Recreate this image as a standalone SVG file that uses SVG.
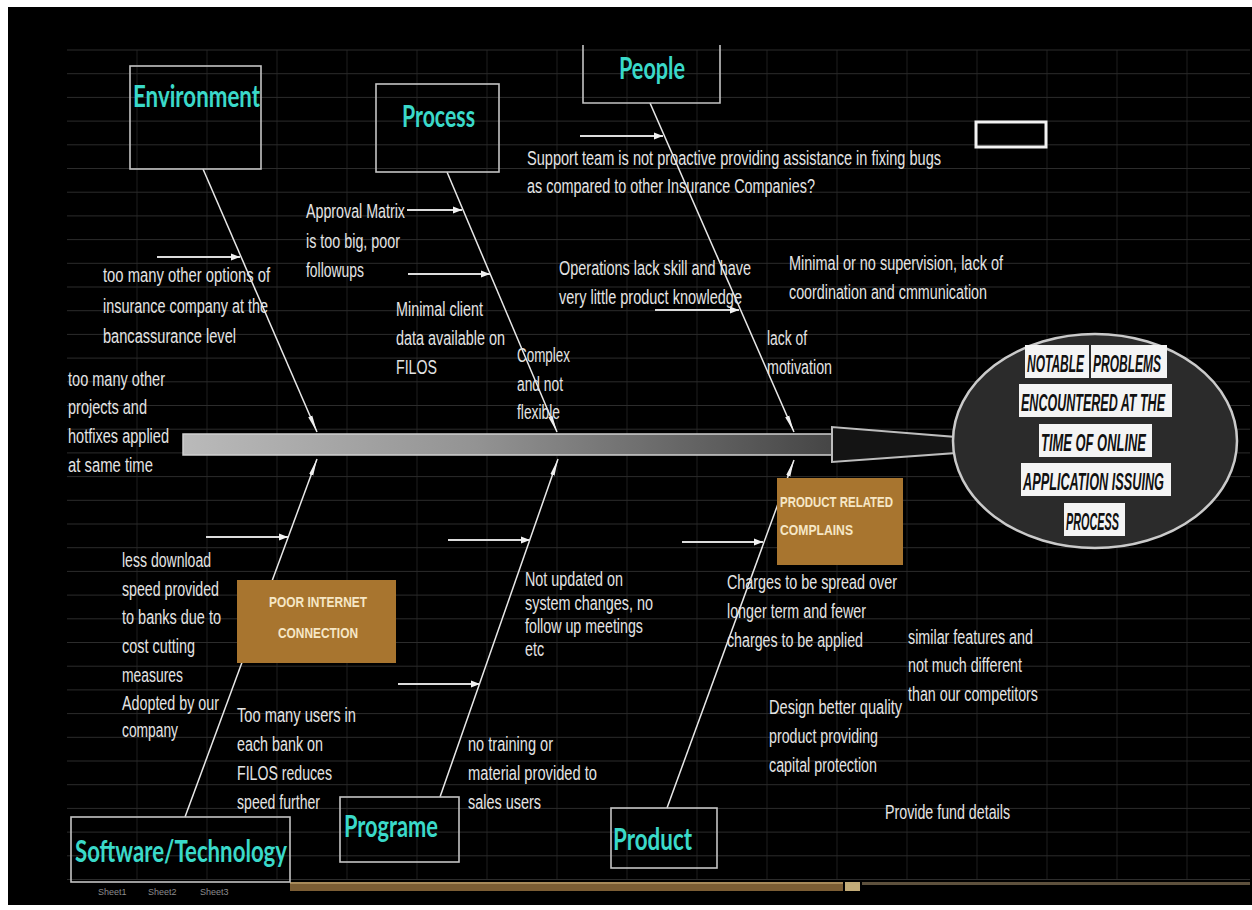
<svg xmlns="http://www.w3.org/2000/svg" width="1252" height="910" viewBox="0 0 1252 910">
  <style>
    .bg { fill: #000000; }
    .gh { stroke: #2c2c2c; stroke-width: 1; }
    .gv { stroke: #1e1e1e; stroke-width: 1; }
    .hdr { fill: none; stroke: #c4c4c4; stroke-width: 1.6; }
    .cat { font-family: Lato, "Open Sans", "Liberation Sans", sans-serif; font-weight: 700; font-size: 31px; fill: #3ad9c9; }
    .note { font-family: "Liberation Sans", Arial, sans-serif; font-size: 20px; fill: #e4e4e4; }
    .bone { stroke: #e8e8e8; stroke-width: 1.5; fill: none; }
    .sub { stroke: #dcdcdc; stroke-width: 2.2; fill: none; }
    .tag { fill: #a8752f; }
    .tagtxt { font-family: "Liberation Sans", Arial, sans-serif; font-weight: 700; font-size: 15px; fill: #f6e7c6; }
    .plate { fill: #f4f4f4; }
    .head { font-family: "Liberation Sans", Arial, sans-serif; font-weight: 700; font-style: italic; font-size: 24px; fill: #111111; }
  </style>
  <defs>
    <marker id="spike" markerUnits="userSpaceOnUse" markerWidth="18" markerHeight="8" refX="17" refY="3" orient="auto">
      <path d="M0,0.8 L17,3 L0,5.2 z" fill="#f0f0f0"/>
    </marker>
    <marker id="tip" markerUnits="userSpaceOnUse" markerWidth="10" markerHeight="8" refX="9" refY="4" orient="auto">
      <path d="M0,0.5 L9,4 L0,7.5 z" fill="#f2f2f2"/>
    </marker>
    <linearGradient id="spineFill" x1="0" y1="0" x2="1" y2="0">
      <stop offset="0" stop-color="#bababa"/>
      <stop offset="0.45" stop-color="#939393"/>
      <stop offset="1" stop-color="#454545"/>
    </linearGradient>
  </defs>

  <!-- sheet background -->
  <rect x="0" y="0" width="1252" height="910" fill="#ffffff"/>
  <rect class="bg" x="8" y="7" width="1244" height="898"/>

  <!-- worksheet grid -->
  <g id="grid">
    <line class="gv" x1="137" y1="50" x2="137" y2="880"/>
    <line class="gv" x1="207" y1="50" x2="207" y2="880"/>
    <line class="gv" x1="277" y1="50" x2="277" y2="880"/>
    <line class="gv" x1="347" y1="50" x2="347" y2="880"/>
    <line class="gv" x1="417" y1="50" x2="417" y2="880"/>
    <line class="gv" x1="487" y1="50" x2="487" y2="880"/>
    <line class="gv" x1="557" y1="50" x2="557" y2="880"/>
    <line class="gv" x1="627" y1="50" x2="627" y2="880"/>
    <line class="gv" x1="697" y1="50" x2="697" y2="880"/>
    <line class="gv" x1="767" y1="50" x2="767" y2="880"/>
    <line class="gv" x1="837" y1="50" x2="837" y2="880"/>
    <line class="gv" x1="907" y1="50" x2="907" y2="880"/>
    <line class="gv" x1="977" y1="50" x2="977" y2="880"/>
    <line class="gv" x1="1047" y1="50" x2="1047" y2="880"/>
    <line class="gv" x1="1117" y1="50" x2="1117" y2="880"/>
    <line class="gv" x1="1187" y1="50" x2="1187" y2="880"/>
    <line class="gh" x1="67" y1="50" x2="1250" y2="50" stroke="#4a4a4a"/>
    <line class="gh" x1="67" y1="73.7" x2="1250" y2="73.7"/>
    <line class="gh" x1="67" y1="97.4" x2="1250" y2="97.4"/>
    <line class="gh" x1="67" y1="121.1" x2="1250" y2="121.1"/>
    <line class="gh" x1="67" y1="144.8" x2="1250" y2="144.8"/>
    <line class="gh" x1="67" y1="168.5" x2="1250" y2="168.5"/>
    <line class="gh" x1="67" y1="192.2" x2="1250" y2="192.2"/>
    <line class="gh" x1="67" y1="215.9" x2="1250" y2="215.9"/>
    <line class="gh" x1="67" y1="239.6" x2="1250" y2="239.6"/>
    <line class="gh" x1="67" y1="263.3" x2="1250" y2="263.3"/>
    <line class="gh" x1="67" y1="287" x2="1250" y2="287"/>
    <line class="gh" x1="67" y1="310.7" x2="1250" y2="310.7"/>
    <line class="gh" x1="67" y1="334.4" x2="1250" y2="334.4"/>
    <line class="gh" x1="67" y1="358.1" x2="1250" y2="358.1"/>
    <line class="gh" x1="67" y1="381.8" x2="1250" y2="381.8"/>
    <line class="gh" x1="67" y1="405.5" x2="1250" y2="405.5"/>
    <line class="gh" x1="67" y1="429.2" x2="1250" y2="429.2"/>
    <line class="gh" x1="67" y1="452.9" x2="1250" y2="452.9"/>
    <line class="gh" x1="67" y1="476.6" x2="1250" y2="476.6"/>
    <line class="gh" x1="67" y1="500.3" x2="1250" y2="500.3"/>
    <line class="gh" x1="67" y1="524" x2="1250" y2="524"/>
    <line class="gh" x1="67" y1="547.7" x2="1250" y2="547.7"/>
    <line class="gh" x1="67" y1="571.4" x2="1250" y2="571.4"/>
    <line class="gh" x1="67" y1="595.1" x2="1250" y2="595.1"/>
    <line class="gh" x1="67" y1="618.8" x2="1250" y2="618.8"/>
    <line class="gh" x1="67" y1="642.5" x2="1250" y2="642.5"/>
    <line class="gh" x1="67" y1="666.2" x2="1250" y2="666.2"/>
    <line class="gh" x1="67" y1="689.9" x2="1250" y2="689.9"/>
    <line class="gh" x1="67" y1="713.6" x2="1250" y2="713.6"/>
    <line class="gh" x1="67" y1="737.3" x2="1250" y2="737.3"/>
    <line class="gh" x1="67" y1="761" x2="1250" y2="761"/>
    <line class="gh" x1="67" y1="784.7" x2="1250" y2="784.7"/>
    <line class="gh" x1="67" y1="808.4" x2="1250" y2="808.4"/>
    <line class="gh" x1="67" y1="832.1" x2="1250" y2="832.1"/>
    <line class="gh" x1="67" y1="855.8" x2="1250" y2="855.8"/>
    <line class="gh" x1="67" y1="879.5" x2="1250" y2="879.5"/>
  </g>

  <!-- sheet tab bar -->
  <g id="tabs">
    <rect x="290" y="882" width="553" height="9" fill="#7b5d34"/>
    <rect x="290" y="882" width="553" height="2" fill="#a88a5a"/>
    <rect x="845" y="882" width="15" height="9" fill="#c2ab78"/>
    <rect x="862" y="882" width="388" height="3" fill="#5e513d"/>
    <text x="98" y="895" font-family="Liberation Sans, Arial, sans-serif" font-size="9" fill="#8c8c8c">Sheet1</text>
    <text x="148" y="895" font-family="Liberation Sans, Arial, sans-serif" font-size="9" fill="#8c8c8c">Sheet2</text>
    <text x="200" y="895" font-family="Liberation Sans, Arial, sans-serif" font-size="9" fill="#8c8c8c">Sheet3</text>
  </g>

  <!-- main spine -->
  <g id="spine">
    <rect x="183" y="434" width="650" height="21" fill="url(#spineFill)" stroke="#d0d0d0" stroke-width="1.5"/>
    <polygon points="832,435 832,427 956,437 956,453 832,462 832,455" fill="#141414" stroke="#bdbdbd" stroke-width="2"/>
  </g>

  <!-- bones and cause arrows -->
  <g id="connectors">
    <line class="bone" x1="203" y1="169" x2="317" y2="432" marker-end="url(#spike)"/>
    <line class="bone" x1="447" y1="172" x2="557" y2="432" marker-end="url(#spike)"/>
    <line class="bone" x1="650" y1="103" x2="794" y2="432" marker-end="url(#spike)"/>
    <line class="bone" x1="185" y1="817" x2="317" y2="459" marker-end="url(#spike)"/>
    <line class="bone" x1="440" y1="797" x2="558" y2="459" marker-end="url(#spike)"/>
    <line class="bone" x1="667" y1="808" x2="794" y2="460" marker-end="url(#spike)"/>

    <line class="sub" x1="157" y1="257" x2="240" y2="257" marker-end="url(#tip)"/>
    <line class="sub" x1="407" y1="210" x2="462" y2="210" marker-end="url(#tip)"/>
    <line class="sub" x1="408" y1="274" x2="490" y2="274" marker-end="url(#tip)"/>
    <line class="sub" x1="580" y1="136" x2="663" y2="136" marker-end="url(#tip)"/>
    <line class="sub" x1="655" y1="310" x2="739" y2="310" marker-end="url(#tip)"/>
    <line class="sub" x1="206" y1="537" x2="288" y2="537" marker-end="url(#tip)"/>
    <line class="sub" x1="448" y1="540" x2="530" y2="540" marker-end="url(#tip)"/>
    <line class="sub" x1="398" y1="684" x2="480" y2="684" marker-end="url(#tip)"/>
    <line class="sub" x1="682" y1="542" x2="763" y2="542" marker-end="url(#tip)"/>
  </g>

  <!-- problem statement -->
  <g id="problem">
    <ellipse cx="1095" cy="441" rx="142" ry="107" fill="#2b2b2b" stroke="#cacaca" stroke-width="2.5"/>
    <rect class="plate" x="1025" y="345" width="64" height="33"/>
    <rect class="plate" x="1091" y="345" width="76" height="33"/>
    <rect class="plate" x="1019" y="384" width="153" height="33"/>
    <rect class="plate" x="1039" y="424" width="113" height="33"/>
    <rect class="plate" x="1021" y="463" width="150" height="33"/>
    <rect class="plate" x="1064" y="503" width="61" height="33"/>
    <text class="head" x="1027" y="372" textLength="57" lengthAdjust="spacingAndGlyphs">NOTABLE</text>
    <text class="head" x="1093" y="372" textLength="68" lengthAdjust="spacingAndGlyphs">PROBLEMS</text>
    <text class="head" x="1021" y="411" textLength="144" lengthAdjust="spacingAndGlyphs">ENCOUNTERED AT THE</text>
    <text class="head" x="1041" y="451" textLength="105" lengthAdjust="spacingAndGlyphs">TIME OF ONLINE</text>
    <text class="head" x="1023" y="490" textLength="141" lengthAdjust="spacingAndGlyphs">APPLICATION ISSUING</text>
    <text class="head" x="1066" y="530" textLength="53" lengthAdjust="spacingAndGlyphs">PROCESS</text>
  </g>

  <!-- Environment -->
  <g id="environment">
    <rect class="hdr" x="130" y="66" width="131" height="103"/>
    <text class="cat" x="133" y="107" textLength="127" lengthAdjust="spacingAndGlyphs">Environment</text>
    <text class="note" x="103" y="282" textLength="167" lengthAdjust="spacingAndGlyphs">too many other options of</text>
    <text class="note" x="103" y="313" textLength="165" lengthAdjust="spacingAndGlyphs">insurance company at the</text>
    <text class="note" x="103" y="343" textLength="133" lengthAdjust="spacingAndGlyphs">bancassurance  level</text>
    <text class="note" x="68" y="386" textLength="97" lengthAdjust="spacingAndGlyphs">too many other</text>
    <text class="note" x="68" y="414" textLength="79" lengthAdjust="spacingAndGlyphs">projects and</text>
    <text class="note" x="68" y="443" textLength="101" lengthAdjust="spacingAndGlyphs">hotfixes applied</text>
    <text class="note" x="68" y="472" textLength="85" lengthAdjust="spacingAndGlyphs">at same time</text>
  </g>

  <!-- Process -->
  <g id="process">
    <rect class="hdr" x="376" y="84" width="123" height="88"/>
    <text class="cat" x="402" y="127" textLength="73" lengthAdjust="spacingAndGlyphs">Process</text>
    <text class="note" x="306" y="218" textLength="99" lengthAdjust="spacingAndGlyphs">Approval Matrix</text>
    <text class="note" x="306" y="248" textLength="94" lengthAdjust="spacingAndGlyphs">is too big, poor</text>
    <text class="note" x="306" y="277" textLength="58" lengthAdjust="spacingAndGlyphs">followups</text>
    <text class="note" x="396" y="316" textLength="87" lengthAdjust="spacingAndGlyphs">Minimal client</text>
    <text class="note" x="396" y="345" textLength="109" lengthAdjust="spacingAndGlyphs">data available on</text>
    <text class="note" x="396" y="374" textLength="41" lengthAdjust="spacingAndGlyphs">FILOS</text>
    <text class="note" x="517" y="362" textLength="53" lengthAdjust="spacingAndGlyphs">Complex</text>
    <text class="note" x="517" y="391" textLength="46" lengthAdjust="spacingAndGlyphs">and not</text>
    <text class="note" x="517" y="419" textLength="43" lengthAdjust="spacingAndGlyphs">flexible</text>
  </g>

  <!-- People -->
  <g id="people">
    <path class="hdr" d="M583,45 V103 H720 V45"/>
    <text class="cat" x="619" y="79" textLength="66" lengthAdjust="spacingAndGlyphs">People</text>
    <text class="note" x="527" y="165" textLength="414" lengthAdjust="spacingAndGlyphs">Support team is not proactive providing assistance in fixing bugs</text>
    <text class="note" x="527" y="193" textLength="288" lengthAdjust="spacingAndGlyphs">as compared to other Insurance Companies?</text>
    <text class="note" x="559" y="275" textLength="192" lengthAdjust="spacingAndGlyphs">Operations  lack skill and have</text>
    <text class="note" x="559" y="304" textLength="183" lengthAdjust="spacingAndGlyphs">very little product  knowledge</text>
    <text class="note" x="789" y="270" textLength="214" lengthAdjust="spacingAndGlyphs">Minimal or no supervision, lack of</text>
    <text class="note" x="789" y="299" textLength="198" lengthAdjust="spacingAndGlyphs">coordination and cmmunication</text>
    <text class="note" x="767" y="345" textLength="40" lengthAdjust="spacingAndGlyphs">lack of</text>
    <text class="note" x="767" y="374" textLength="65" lengthAdjust="spacingAndGlyphs">motivation</text>
  </g>

  <!-- empty cell marker -->
  <rect x="976" y="122" width="70" height="25" fill="none" stroke="#f2f2f2" stroke-width="3"/>

  <!-- Software/Technology -->
  <g id="software">
    <rect class="hdr" x="71" y="817" width="219" height="65"/>
    <text class="cat" x="75" y="862" textLength="212" lengthAdjust="spacingAndGlyphs">Software/Technology</text>
    <text class="note" x="122" y="567" textLength="89" lengthAdjust="spacingAndGlyphs">less download</text>
    <text class="note" x="122" y="596" textLength="97" lengthAdjust="spacingAndGlyphs">speed provided</text>
    <text class="note" x="122" y="624" textLength="99" lengthAdjust="spacingAndGlyphs">to banks  due to</text>
    <text class="note" x="122" y="653" textLength="73" lengthAdjust="spacingAndGlyphs">cost cutting</text>
    <text class="note" x="122" y="682" textLength="61" lengthAdjust="spacingAndGlyphs">measures</text>
    <text class="note" x="122" y="710" textLength="97" lengthAdjust="spacingAndGlyphs">Adopted by our</text>
    <text class="note" x="122" y="737" textLength="56" lengthAdjust="spacingAndGlyphs">company</text>
    <rect class="tag" x="237" y="580" width="159" height="83"/>
    <text class="tagtxt" x="318" y="607" text-anchor="middle" textLength="98" lengthAdjust="spacingAndGlyphs">POOR INTERNET</text>
    <text class="tagtxt" x="318" y="638" text-anchor="middle" textLength="80" lengthAdjust="spacingAndGlyphs">CONNECTION</text>
    <text class="note" x="237" y="722" textLength="119" lengthAdjust="spacingAndGlyphs">Too many users in</text>
    <text class="note" x="237" y="751" textLength="86" lengthAdjust="spacingAndGlyphs">each bank  on</text>
    <text class="note" x="237" y="780" textLength="95" lengthAdjust="spacingAndGlyphs">FILOS reduces</text>
    <text class="note" x="237" y="809" textLength="83" lengthAdjust="spacingAndGlyphs">speed further</text>
  </g>

  <!-- Programe -->
  <g id="programe">
    <rect class="hdr" x="340" y="797" width="119" height="65"/>
    <text class="cat" x="344" y="837" textLength="94" lengthAdjust="spacingAndGlyphs">Programe</text>
    <text class="note" x="525" y="586" textLength="98" lengthAdjust="spacingAndGlyphs">Not updated  on</text>
    <text class="note" x="525" y="610" textLength="128" lengthAdjust="spacingAndGlyphs">system changes, no</text>
    <text class="note" x="525" y="633" textLength="118" lengthAdjust="spacingAndGlyphs">follow up meetings</text>
    <text class="note" x="525" y="656" textLength="19" lengthAdjust="spacingAndGlyphs">etc</text>
    <text class="note" x="468" y="751" textLength="85" lengthAdjust="spacingAndGlyphs">no training or</text>
    <text class="note" x="468" y="780" textLength="129" lengthAdjust="spacingAndGlyphs">material provided to</text>
    <text class="note" x="468" y="809" textLength="73" lengthAdjust="spacingAndGlyphs">sales users</text>
  </g>

  <!-- Product -->
  <g id="product">
    <rect class="hdr" x="611" y="808" width="106" height="60"/>
    <text class="cat" x="613" y="850" textLength="79" lengthAdjust="spacingAndGlyphs">Product</text>
    <rect class="tag" x="777" y="478" width="126" height="87"/>
    <text class="tagtxt" x="780" y="507" textLength="113" lengthAdjust="spacingAndGlyphs">PRODUCT RELATED</text>
    <text class="tagtxt" x="780" y="535" textLength="73" lengthAdjust="spacingAndGlyphs">COMPLAINS</text>
    <text class="note" x="727" y="589" textLength="170" lengthAdjust="spacingAndGlyphs">Charges to be spread over</text>
    <text class="note" x="727" y="618" textLength="139" lengthAdjust="spacingAndGlyphs">longer term and fewer</text>
    <text class="note" x="727" y="647" textLength="136" lengthAdjust="spacingAndGlyphs">charges to be applied</text>
    <text class="note" x="908" y="644" textLength="125" lengthAdjust="spacingAndGlyphs">similar features  and</text>
    <text class="note" x="908" y="672" textLength="114" lengthAdjust="spacingAndGlyphs">not much different</text>
    <text class="note" x="908" y="701" textLength="130" lengthAdjust="spacingAndGlyphs">than our competitors</text>
    <text class="note" x="769" y="714" textLength="133" lengthAdjust="spacingAndGlyphs">Design better quality</text>
    <text class="note" x="769" y="743" textLength="109" lengthAdjust="spacingAndGlyphs">product providing</text>
    <text class="note" x="769" y="772" textLength="108" lengthAdjust="spacingAndGlyphs">capital protection</text>
    <text class="note" x="885" y="819" textLength="125" lengthAdjust="spacingAndGlyphs">Provide fund details</text>
  </g>
</svg>
